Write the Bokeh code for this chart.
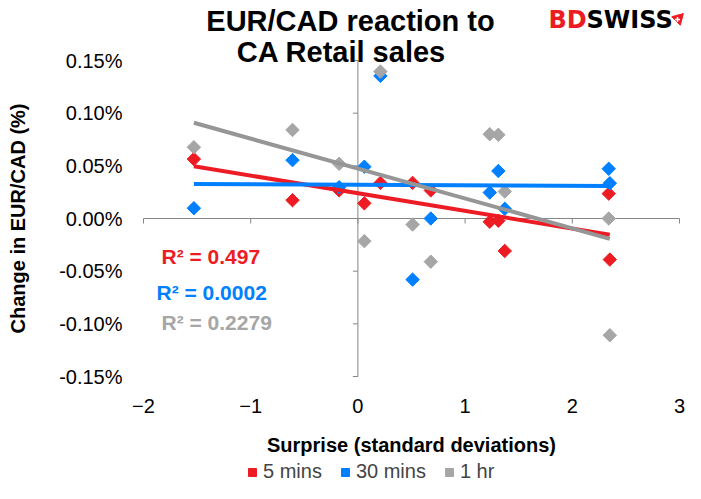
import numpy as np
from bokeh.plotting import figure
from bokeh.models import (Range1d, FixedTicker, PrintfTickFormatter, Label,
                          Legend, LegendItem, LinearAxis)
from bokeh.embed import file_html
from bokeh.resources import INLINE

# ---- data (surprise in std devs, EUR/CAD change in %) ----
surprise = [-1.53, -0.61, -0.175, 0.06, 0.21, 0.51, 0.68, 1.23, 1.31, 1.37, 2.34, 2.35]
mins5 = [0.0564, 0.0174, 0.0267, 0.0144, 0.0338, 0.0338, 0.0267, -0.0031, -0.0021, -0.0308, 0.0236, -0.039]
mins30 = [0.0098, 0.0554, 0.0297, 0.0492, 0.1354, -0.058, 0.0, 0.0246, 0.0451, 0.0092, 0.0472, 0.0335]
hr1 = [0.0677, 0.0841, 0.0519, -0.0215, 0.1395, -0.0057, -0.041, 0.080, 0.0795, 0.0256, 0.0, -0.1108]
series_names = ["5 mins", "30 mins", "1 hr"]
r2_labels = ["R\u00b2 = 0.497", "R\u00b2 = 0.0002", "R\u00b2 = 0.2279"]
x_ticks = [-2, -1, 0, 1, 2, 3]
y_ticks = [-0.15, -0.10, -0.05, 0.0, 0.05, 0.10, 0.15]

RED = "#ED1C24"
BLUE = "#0080FF"
GRAY = "#A6A6A6"
GRAY_LINE = "#969696"
AXIS_GRAY = "#868686"
colors = [RED, BLUE, GRAY]
line_colors = [RED, BLUE, GRAY_LINE]
FONT = "Liberation Sans"

W, H = 685, 483
# pixel layout of the plotting area inside the canvas
PX_LEFT, PX_RIGHT, PX_TOP, PX_BOTTOM = 143, 679, 60, 376
kx = (PX_RIGHT - PX_LEFT) / (x_ticks[-1] - x_ticks[0])
ky = (PX_BOTTOM - PX_TOP) / (y_ticks[-1] - y_ticks[0])
x0 = x_ticks[0] - PX_LEFT / kx
x1 = x_ticks[-1] + (W - PX_RIGHT) / kx
y1 = y_ticks[-1] + PX_TOP / ky
y0 = y_ticks[0] - (H - PX_BOTTOM) / ky


def dx(px):
    return x0 + px / kx


def dy(py):
    return y1 - py / ky


p = figure(width=W, height=H, output_backend="svg", toolbar_location=None,
           x_range=Range1d(x0, x1), y_range=Range1d(y0, y1),
           min_border=0, x_axis_location=None, y_axis_location=None)
p.min_border_left = 0
p.min_border_right = 0
p.min_border_top = 0
p.min_border_bottom = 0
p.outline_line_color = None
p.grid.visible = False
p.background_fill_color = "white"
p.border_fill_color = "white"

yax = LinearAxis(fixed_location=x_ticks[0], bounds=(y_ticks[0], y_ticks[-1]))
xax = LinearAxis(fixed_location=y_ticks[0], bounds=(x_ticks[0], x_ticks[-1]))
p.add_layout(yax, "left")
p.add_layout(xax, "below")
for ax in (xax, yax):
    ax.axis_line_color = None
    ax.major_tick_line_color = None
    ax.minor_tick_line_color = None
    ax.major_tick_out = 0
    ax.major_tick_in = 0
    ax.minor_tick_out = 0
    ax.minor_tick_in = 0
    ax.major_label_text_font = FONT
    ax.major_label_text_font_size = "20px"
    ax.major_label_text_color = "black"
    ax.axis_label_text_font = FONT
    ax.axis_label_text_font_size = "20px"
    ax.axis_label_text_font_style = "bold"
    ax.axis_label_text_color = "black"

xax.ticker = FixedTicker(ticks=x_ticks)
yax.ticker = FixedTicker(ticks=y_ticks)
yax.formatter = PrintfTickFormatter(format="%.2f%%")
xax.major_label_standoff = 22
yax.major_label_standoff = 21
xax.axis_label = "Surprise (standard deviations)"
yax.axis_label = "Change in EUR/CAD (%)"
xax.axis_label_standoff = 18
yax.axis_label_standoff = 27

# zero-crossing axis lines with outward ticks
p.segment(x0=[x_ticks[0]], y0=[0], x1=[x_ticks[-1]], y1=[0], line_color=AXIS_GRAY, line_width=1)
p.segment(x0=[0], y0=[y_ticks[0]], x1=[0], y1=[y_ticks[-1]], line_color=AXIS_GRAY, line_width=1)
p.ray(x=x_ticks, y=[0] * len(x_ticks), length=5, length_units="screen",
      angle=-np.pi / 2, line_color=AXIS_GRAY, line_width=1)
p.ray(x=[0] * len(y_ticks), y=y_ticks, length=5, length_units="screen",
      angle=np.pi, line_color=AXIS_GRAY, line_width=1)

# scatter
all_series = [mins5, mins30, hr1]
scatter_r = []
for ys, c in zip(all_series, colors):
    r = p.scatter(surprise, ys, marker="square", angle=np.pi / 4, size=9.5,
                  fill_color=c, line_color=c)
    scatter_r.append(r)

# linear trend lines
xs = np.array(surprise)
xl = np.array([xs.min(), xs.max()])
for ys, c in zip(all_series, line_colors):
    k, b = np.polyfit(xs, np.array(ys), 1)
    p.line(xl, k * xl + b, line_color=c, line_width=4)

# R^2 labels
r2_pos = [(161, 256), (156, 292), (161, 322)]
for txt, c, (lx, ly) in zip(r2_labels, colors, r2_pos):
    p.add_layout(Label(x=dx(lx), y=dy(ly), text=txt, text_color=c, text_font=FONT,
                       text_font_size="21px", text_font_style="bold",
                       text_baseline="middle", text_align="left"))

# title
for txt, (tx, ty) in [("EUR/CAD reaction to", (350, 20.5)), ("CA Retail sales", (341, 51.5))]:
    p.add_layout(Label(x=dx(tx), y=dy(ty), text=txt, text_color="black",
                       text_font=FONT, text_font_size="29px",
                       text_font_style="bold", text_align="center",
                       text_baseline="middle"))

# logo
LOGO_FONT = "DejaVu Sans"
p.add_layout(Label(x=dx(548), y=dy(19.5), text="BD", text_color=RED, text_font=LOGO_FONT,
                   text_font_size="24px", text_font_style="bold",
                   text_align="left", text_baseline="middle"))
p.add_layout(Label(x=dx(586), y=dy(19.5), text="SWISS", text_color="black",
                   text_font=LOGO_FONT, text_font_size="24px", text_font_style="bold",
                   text_align="left", text_baseline="middle"))
p.scatter([dx(678)], [dy(18)], marker="triangle", angle=-np.pi / 4, size=12,
          fill_color=RED, line_color=RED)
p.scatter([dx(677)], [dy(19)], marker="cross", size=5, line_color="white", line_width=1.5)

legend = Legend(items=[LegendItem(label=n, renderers=[r]) for n, r in zip(series_names, scatter_r)],
                orientation="horizontal", location=(242, 0),
                label_text_font=FONT, label_text_font_size="20px",
                glyph_width=20, glyph_height=20, label_height=20, label_standoff=1,
                spacing=13, padding=0, margin=0, border_line_color=None,
                background_fill_alpha=0)
p.add_layout(legend, "center")

open("out.html", "w").write(file_html(p, INLINE))
